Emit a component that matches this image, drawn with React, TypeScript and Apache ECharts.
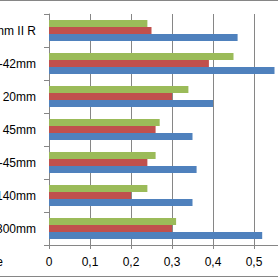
import React, { useEffect, useRef } from "react";
import * as echarts from "echarts";

const categories = ["300mm", "140mm", "-45mm", "45mm", "20mm", "-42mm", "mm II R"];
const blueValues = [0.52, 0.35, 0.36, 0.35, 0.40, 0.55, 0.46];
const redValues = [0.30, 0.20, 0.24, 0.26, 0.30, 0.39, 0.25];
const greenValues = [0.31, 0.24, 0.26, 0.27, 0.34, 0.45, 0.24];
const xTicks = [0, 0.1, 0.2, 0.3, 0.4, 0.5, 0.6];

const FONT = "'Liberation Sans', Arial, sans-serif";
const GRAY = "#868686";

export default function App() {
  const ref = useRef<HTMLDivElement>(null);
  useEffect(() => {
    if (!ref.current) return;
    const chart = echarts.init(ref.current, undefined, { renderer: "svg" });
    chart.setOption({
      animation: false,
      backgroundColor: "#ffffff",
      grid: { left: 49, top: 14, width: 246, height: 231, containLabel: false, outerBoundsMode: "none" },
      xAxis: {
        type: "value",
        min: xTicks[0],
        max: xTicks[xTicks.length - 1],
        interval: 0.1,
        axisLine: { show: true, lineStyle: { color: GRAY, width: 1 } },
        axisTick: { show: true, length: 4, lineStyle: { color: GRAY } },
        splitLine: { show: true, lineStyle: { color: GRAY, width: 1 } },
        axisLabel: {
          margin: 11,
          color: "#000",
          fontSize: 12,
          fontFamily: FONT,
          formatter: (v: number) => (v === 0 ? "0" : v.toFixed(1).replace(".", ",")),
        },
      },
      yAxis: {
        type: "category",
        data: categories,
        axisLine: { show: true, lineStyle: { color: GRAY, width: 1 } },
        axisTick: { show: true, length: 5, lineStyle: { color: GRAY } },
        axisLabel: { margin: 13, color: "#000", fontSize: 12, fontFamily: FONT },
      },
      series: [
        { type: "bar", data: greenValues, itemStyle: { color: "#9BBB59" }, barGap: "0%", barCategoryGap: "36%" },
        { type: "bar", data: redValues, itemStyle: { color: "#C0504D" }, barGap: "0%", barCategoryGap: "36%" },
        { type: "bar", data: blueValues, itemStyle: { color: "#4F81BD" }, barGap: "0%", barCategoryGap: "36%" },
      ],
      graphic: [
        { type: "line", shape: { x1: 0, y1: 0.5, x2: 300, y2: 0.5 }, style: { stroke: GRAY, lineWidth: 1 } },
        { type: "line", shape: { x1: 0, y1: 276.5, x2: 300, y2: 276.5 }, style: { stroke: GRAY, lineWidth: 1 } },
        { type: "text", x: 3, y: 262, style: { text: "e", align: "right", verticalAlign: "middle", fontSize: 12, fontFamily: FONT, fill: "#000" } },
      ],
    });
    return () => chart.dispose();
  }, []);
  return (
    <div style={{ position: "fixed", left: 0, top: 0, width: 278, height: 278, overflow: "hidden", background: "#fff" }}>
      <div ref={ref} style={{ width: 300, height: 278 }} />
    </div>
  );
}
